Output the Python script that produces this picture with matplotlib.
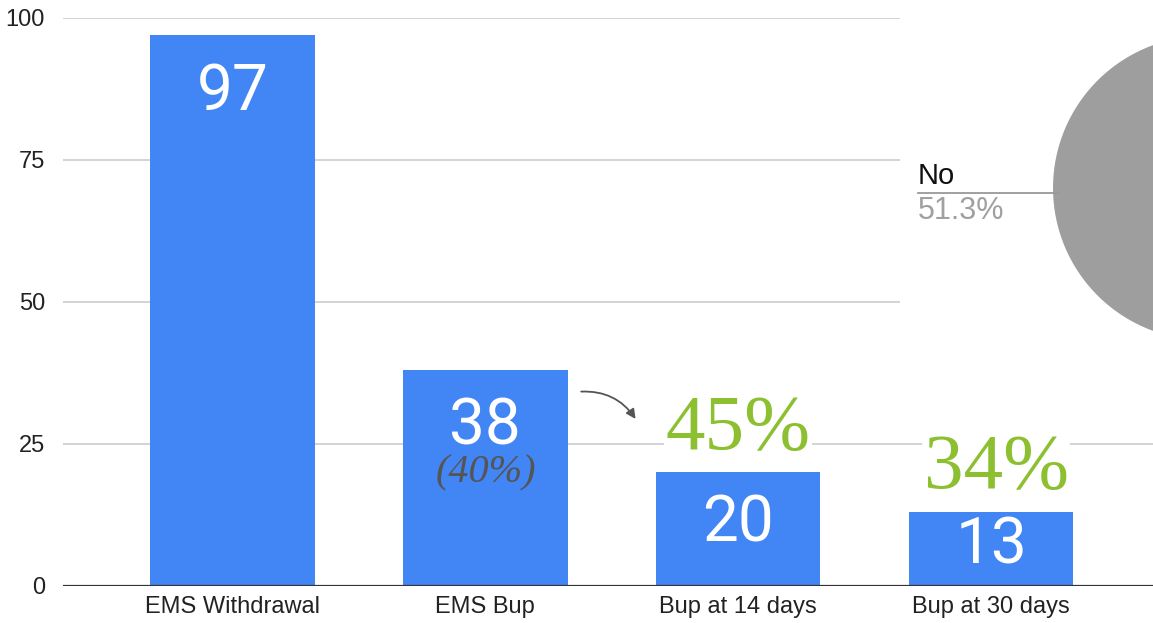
import matplotlib.pyplot as plt

# Data
categories = ['EMS Withdrawal', 'EMS Bup', 'Bup at 14 days', 'Bup at 30 days']
counts = [97, 38, 20, 13]
share_of_withdrawal = '(40%)'
retention_labels = ['45%', '34%']
pie_labels = ['No', 'Yes']
pie_shares = [51.3, 48.7]

BLUE = '#4285f4'
GREEN = '#8cc031'

fig = plt.figure(figsize=(11.53, 6.23), dpi=100)
ax = fig.add_axes([63 / 1153, 1 - 586 / 623, 1 - 63 / 1153, (586 - 18) / 623])

x = list(range(len(categories)))
ax.bar(x, counts, width=0.65, color=BLUE, zorder=2)
ax.set_xlim(-0.67, 3.64)
ax.set_ylim(0, 100)

# Grid and axis styling
ax.set_yticks([0, 25, 50, 75, 100])
ax.yaxis.grid(True, color='#cccccc', linewidth=1.2, zorder=0)
ax.axhline(0, color='#333333', linewidth=1.6, zorder=3)
for side in ['top', 'right', 'left', 'bottom']:
    ax.spines[side].set_visible(False)
ax.tick_params(axis='both', length=0)
ax.tick_params(axis='y', pad=13)
ax.tick_params(axis='x', pad=7)
ax.set_xticks(x)
ax.set_xticklabels(categories, fontsize=17, family='Liberation Sans', color='#222222')
for lbl in ax.get_yticklabels():
    lbl.set_fontsize(17)
    lbl.set_family('Liberation Sans')
    lbl.set_color('#222222')

# Count labels inside the bars
for xi, v in zip(x, counts):
    ax.text(xi, max(v - 10.0, v * 0.55), str(v), ha='center', va='center',
            color='white', fontsize=46, family='Roboto', zorder=4)

ax.text(1, 19.9, share_of_withdrawal, ha='center', va='center', color='#555555',
        fontsize=29, family='Liberation Serif', style='italic', zorder=4)

# Retention percentages above the later bars
for xi, v, lbl in zip(x[2:], counts[2:], retention_labels):
    ax.text(xi + 0.01 * (xi - 2) * 2, v + 7.5, lbl, ha='center', va='center', color=GREEN,
            fontsize=57, family='Liberation Serif', zorder=4,
            bbox=dict(facecolor='white', edgecolor='none', pad=1))

ax.annotate('', xy=(1.6, 29.0), xytext=(1.368, 34.2),
            arrowprops=dict(arrowstyle='-|>', color='#555555', lw=1.3,
                            connectionstyle='arc3,rad=-0.3', mutation_scale=14))

# Pie panel on the right
pax = fig.add_axes([900 / 1153, 1 - 370 / 623, 253 / 1153, 370 / 623], zorder=5)
pax.set_facecolor('white')
pax.pie(pie_shares, colors=['#9e9e9e', '#d0d0d0'], startangle=87.65,
        center=(305, 182), radius=152, frame=True)
pax.set_xlim(0, 253)
pax.set_ylim(0, 370)
pax.set_xticks([])
pax.set_yticks([])
for side in pax.spines.values():
    side.set_visible(False)
pax.plot([18, 158], [177, 177], color='#999999', lw=1.3)
pax.text(18, 180, pie_labels[0], ha='left', va='bottom', fontsize=21,
         family='Liberation Sans', color='#111111')
pax.text(18, 174, f'{pie_shares[0]}%', ha='left', va='top', fontsize=22,
         family='Liberation Sans', color='#a0a0a0')

fig.savefig('out.png', dpi=100, facecolor='white')
